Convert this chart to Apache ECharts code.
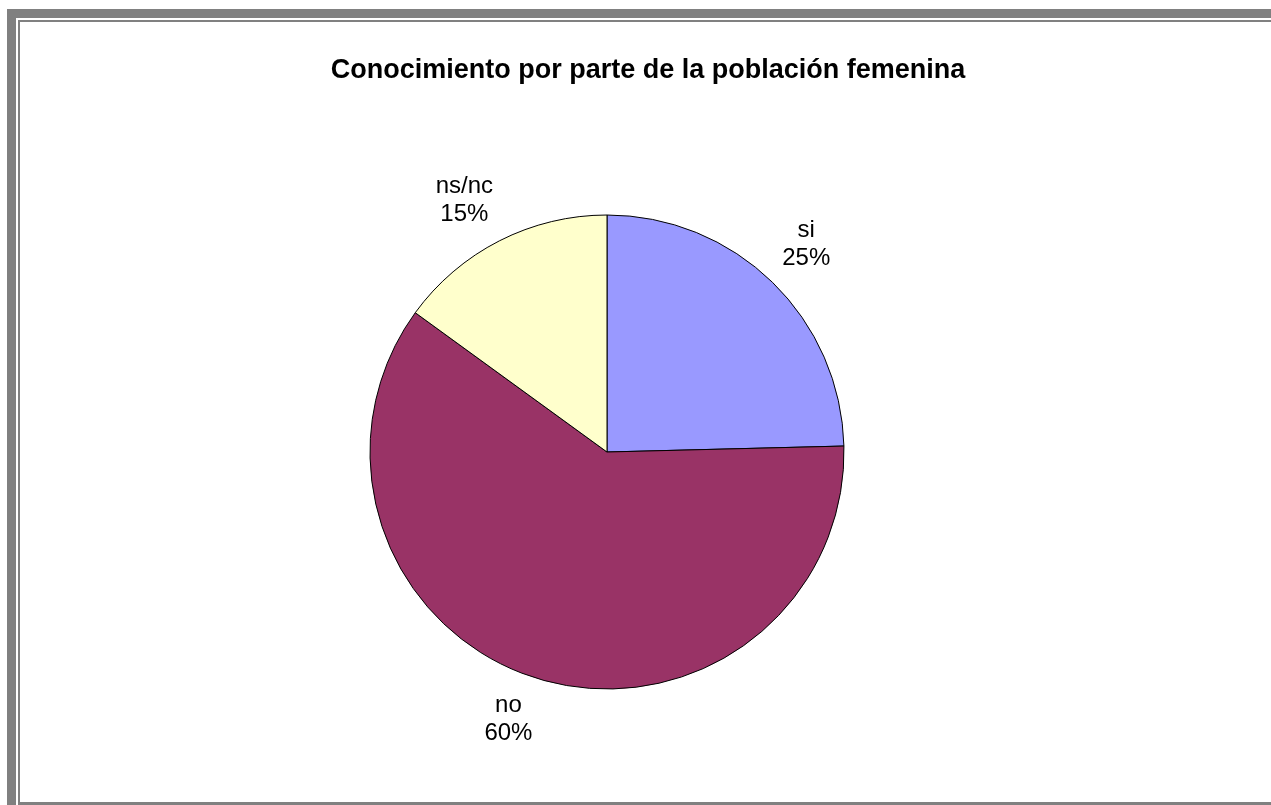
<!DOCTYPE html>
<html>
<head>
<meta charset="utf-8">
<script src="https://cdn.jsdelivr.net/npm/echarts@6/dist/echarts.min.js"></script>
<style>
  html, body { margin: 0; padding: 0; background: #fff; }
  #chart { width: 1271px; height: 805px; }
</style>
</head>
<body>
<div id="chart"></div>
<script>
const titleText = 'Conocimiento por parte de la población femenina';
const categories = ['si', 'no', 'ns/nc'];
const values = [24.6, 60.4, 15.0];
const colors = ['#9999FF', '#993366', '#FFFFCC'];

const CX = 607, CY = 452, R = 237, ANCHOR_DIST = 251;
const total = values.reduce((a, b) => a + b, 0);

const chart = echarts.init(document.getElementById('chart'), null, { renderer: 'canvas' });
const frame = '#808080';

chart.setOption({
  animation: false,
  backgroundColor: '#ffffff',
  graphic: [
    { type: 'rect', shape: { x: 7, y: 9, width: 9, height: 796 }, style: { fill: frame }, silent: true },
    { type: 'rect', shape: { x: 7, y: 9, width: 1264, height: 9 }, style: { fill: frame }, silent: true },
    { type: 'rect', shape: { x: 18, y: 20, width: 2, height: 785 }, style: { fill: frame }, silent: true },
    { type: 'rect', shape: { x: 18, y: 20, width: 1253, height: 2 }, style: { fill: frame }, silent: true },
    { type: 'rect', shape: { x: 18, y: 802, width: 1253, height: 3 }, style: { fill: frame }, silent: true },
    { type: 'text', x: 648, y: 71, silent: true,
      style: { text: titleText, font: 'bold 27px "Liberation Sans", Arial, sans-serif',
               fill: '#000', textAlign: 'center', textVerticalAlign: 'middle' } }
  ],
  series: [{
    type: 'pie',
    center: [CX, CY],
    radius: R,
    startAngle: 90,
    clockwise: true,
    avoidLabelOverlap: false,
    emphasis: { disabled: true },
    data: categories.map((c, i) => ({ name: c, value: values[i], itemStyle: { color: colors[i] } })),
    itemStyle: { borderColor: '#000', borderWidth: 1 },
    label: {
      show: true,
      position: 'outside',
      formatter: p => p.name + '\n' + Math.round(p.percent) + '%',
      fontFamily: '"Liberation Sans", Arial, sans-serif',
      fontSize: 24,
      lineHeight: 28,
      color: '#000'
    },
    labelLine: { show: false },
    labelLayout: function (params) {
      const i = params.dataIndex;
      let cum = 0;
      for (let k = 0; k < i; k++) cum += values[k];
      const a = (cum + values[i] / 2) / total * 2 * Math.PI;
      const ux = Math.sin(a), uy = -Math.cos(a);
      const w = params.labelRect.width, h = params.labelRect.height;
      const ax = CX + ux * ANCHOR_DIST, ay = CY + uy * ANCHOR_DIST;
      return {
        x: ax + Math.sign(ux) * w / 2,
        y: ay + Math.sign(uy) * h / 2,
        align: 'center',
        verticalAlign: 'middle'
      };
    }
  }]
});
</script>
</body>
</html>
